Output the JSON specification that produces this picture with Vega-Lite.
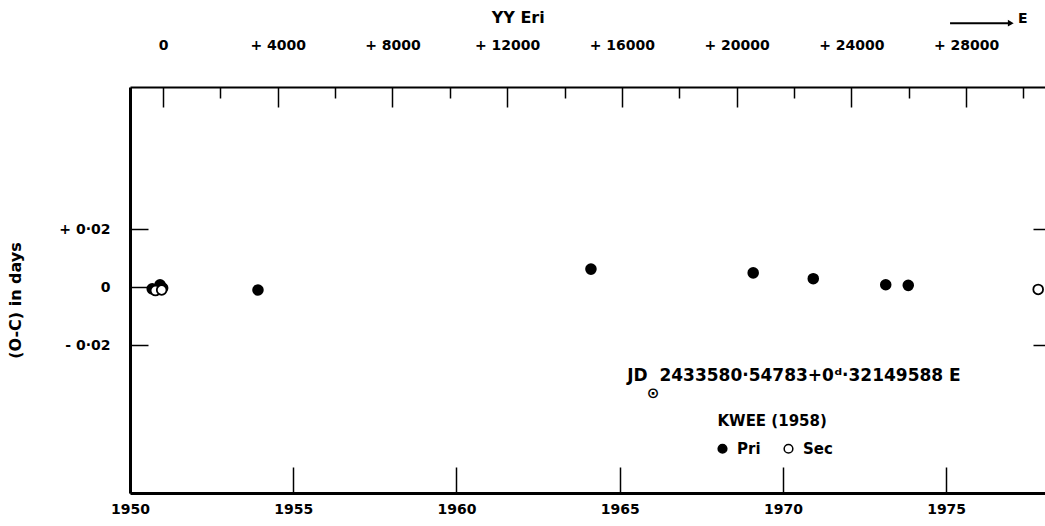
{
  "$schema": "https://vega.github.io/schema/vega-lite/v6.json",
  "width": 917,
  "height": 406,
  "autosize": {"type": "none"},
  "padding": {"left": 130, "top": 87, "right": 0, "bottom": 33},
  "background": "white",
  "config": {"view": {"stroke": null}, "font": "DejaVu Sans"},
  "data": {"values": [
    {"year": 1950.68, "oc": -0.0006, "type": "Pri"},
    {"year": 1950.92, "oc": 0.0008, "type": "Pri"},
    {"year": 1951.0, "oc": -0.0003, "type": "Pri"},
    {"year": 1950.78, "oc": -0.0012, "type": "Sec"},
    {"year": 1950.97, "oc": -0.001, "type": "Sec"},
    {"year": 1953.92, "oc": -0.001, "type": "Pri"},
    {"year": 1964.12, "oc": 0.0062, "type": "Pri"},
    {"year": 1969.09, "oc": 0.0049, "type": "Pri"},
    {"year": 1970.93, "oc": 0.0029, "type": "Pri"},
    {"year": 1973.15, "oc": 0.0008, "type": "Pri"},
    {"year": 1973.84, "oc": 0.0006, "type": "Pri"},
    {"year": 1977.82, "oc": -0.0008, "type": "Sec"}
  ]},
  "layer": [
    {
      "mark": {"type": "circle", "size": 95, "stroke": "black", "strokeWidth": 1.8, "opacity": 1},
      "encoding": {
        "x": {"field": "year", "type": "quantitative",
          "scale": {"domain": [1950, 1978.09], "nice": false, "zero": false},
          "axis": {"orient": "bottom", "values": [1950, 1955, 1960, 1965, 1970, 1975], "format": "d", "title": null, "grid": false,
            "tickSize": -26, "tickWidth": 1.5, "tickColor": "black", "domainWidth": 3, "domainColor": "black",
            "labelPadding": 35, "labelFont": "DejaVu Sans", "labelFontSize": 14, "labelFontWeight": "bold", "labelColor": "black", "labelFlush": false}},
        "y": {"field": "oc", "type": "quantitative",
          "scale": {"domain": [-0.071, 0.069], "nice": false, "zero": false},
          "axis": {"orient": "left", "values": [-0.02, 0, 0.02], "grid": false,
            "labelExpr": "datum.value == 0 ? '0' : (datum.value > 0 ? '+ 0·02' : '- 0·02')",
            "tickSize": -18, "tickWidth": 1.5, "tickColor": "black", "domainWidth": 3, "domainColor": "black",
            "labelPadding": 38, "labelFont": "DejaVu Sans", "labelFontSize": 14, "labelFontWeight": "bold", "labelColor": "black",
            "title": "(O-C) in days", "titleFont": "DejaVu Sans", "titleFontSize": 16, "titleFontWeight": "bold", "titleColor": "black",
            "titleX": -107, "titleY": 213}},
        "fill": {"field": "type", "type": "nominal",
          "scale": {"domain": ["Pri", "Sec"], "range": ["black", "white"]},
          "legend": {"orient": "none", "legendX": 585, "legendY": 354, "direction": "horizontal", "title": null,
            "symbolType": "circle", "symbolSize": 75, "symbolStrokeColor": "black", "symbolStrokeWidth": 1.5,
            "labelFont": "DejaVu Sans", "labelFontSize": 15, "labelFontWeight": "bold", "labelColor": "black", "columnPadding": 20, "labelOffset": 7}}
      }
    },
    {
      "data": {"values": [{}]},
      "mark": {"type": "point", "opacity": 0},
      "encoding": {
        "x": {"datum": 0, "type": "quantitative",
          "scale": {"domain": [-1151, 30823], "nice": false, "zero": false},
          "axis": {"orient": "top", "values": [0, 4000, 8000, 12000, 16000, 20000, 24000, 28000], "grid": false, "title": null,
            "labelExpr": "datum.value == 0 ? '0' : '+ ' + datum.value",
            "tickSize": -20, "tickWidth": 1.5, "tickColor": "black", "domainWidth": 2, "domainColor": "black",
            "labelPadding": 55, "labelFont": "DejaVu Sans", "labelFontSize": 14, "labelFontWeight": "bold", "labelColor": "black", "labelFlush": false}},
        "y": {"datum": 0, "type": "quantitative", "scale": {"domain": [-0.071, 0.069], "nice": false, "zero": false}, "axis": null}
      }
    },
    {
      "data": {"values": [{}]},
      "mark": {"type": "point", "opacity": 0},
      "encoding": {
        "x": {"datum": 0, "type": "quantitative",
          "scale": {"domain": [-1151, 30823], "nice": false, "zero": false},
          "axis": {"orient": "top", "values": [2000, 6000, 10000, 14000, 18000, 22000, 26000, 30000], "grid": false, "title": null,
            "labels": false, "domain": false, "tickSize": -11, "tickWidth": 1.5, "tickColor": "black"}},
        "y": {"datum": 0, "type": "quantitative", "scale": {"domain": [-0.071, 0.069], "nice": false, "zero": false}, "axis": null}
      }
    },
    {
      "data": {"values": [{}]},
      "mark": {"type": "point", "opacity": 0},
      "encoding": {
        "x": {"datum": 1960, "type": "quantitative", "scale": {"domain": [1950, 1978.09], "nice": false, "zero": false}, "axis": null},
        "y": {"datum": 0, "type": "quantitative",
          "scale": {"domain": [-0.071, 0.069], "nice": false, "zero": false},
          "axis": {"orient": "right", "values": [-0.02, 0.02], "grid": false, "title": null, "labels": false, "domain": false,
            "tickSize": -14, "tickWidth": 1.5, "tickColor": "black"}}
      }
    },
    {
      "data": {"values": [{"label": "YY Eri"}]},
      "mark": {"type": "text", "font": "DejaVu Sans", "fontSize": 16, "fontWeight": "bold", "color": "black", "align": "center", "baseline": "middle"},
      "encoding": {
        "text": {"field": "label"},
        "x": {"datum": 1961.89, "type": "quantitative", "scale": {"domain": [1950, 1978.09], "nice": false, "zero": false}, "axis": null},
        "y": {"datum": 0.0928, "type": "quantitative", "scale": {"domain": [-0.071, 0.069], "nice": false, "zero": false}, "axis": null}
      }
    },
    {
      "data": {"values": [{"label": "JD\u00a0\u00a02433580·54783+0ᵈ·32149588 E"}]},
      "mark": {"type": "text", "font": "DejaVu Sans", "fontSize": 17, "fontWeight": "bold", "color": "black", "align": "left", "baseline": "middle"},
      "encoding": {
        "text": {"field": "label"},
        "x": {"datum": 1965.23, "type": "quantitative", "scale": {"domain": [1950, 1978.09], "nice": false, "zero": false}, "axis": null},
        "y": {"datum": -0.0307, "type": "quantitative", "scale": {"domain": [-0.071, 0.069], "nice": false, "zero": false}, "axis": null}
      }
    },
    {
      "data": {"values": [{"label": "⊙"}]},
      "mark": {"type": "text", "font": "DejaVu Sans", "fontSize": 15, "fontWeight": "bold", "color": "black", "align": "center", "baseline": "middle"},
      "encoding": {
        "text": {"field": "label"},
        "x": {"datum": 1966.02, "type": "quantitative", "scale": {"domain": [1950, 1978.09], "nice": false, "zero": false}, "axis": null},
        "y": {"datum": -0.0366, "type": "quantitative", "scale": {"domain": [-0.071, 0.069], "nice": false, "zero": false}, "axis": null}
      }
    },
    {
      "data": {"values": [{"label": "KWEE (1958)"}]},
      "mark": {"type": "text", "font": "DejaVu Sans", "fontSize": 15, "fontWeight": "bold", "color": "black", "align": "center", "baseline": "middle"},
      "encoding": {
        "text": {"field": "label"},
        "x": {"datum": 1969.67, "type": "quantitative", "scale": {"domain": [1950, 1978.09], "nice": false, "zero": false}, "axis": null},
        "y": {"datum": -0.0462, "type": "quantitative", "scale": {"domain": [-0.071, 0.069], "nice": false, "zero": false}, "axis": null}
      }
    },
    {
      "data": {"values": [{}]},
      "mark": {"type": "rule", "color": "black", "strokeWidth": 2},
      "encoding": {
        "x": {"datum": 1975.12, "type": "quantitative", "scale": {"domain": [1950, 1978.09], "nice": false, "zero": false}, "axis": null},
        "x2": {"datum": 1976.9},
        "y": {"datum": 0.091, "type": "quantitative", "scale": {"domain": [-0.071, 0.069], "nice": false, "zero": false}, "axis": null}
      }
    },
    {
      "data": {"values": [{}]},
      "mark": {"type": "point", "shape": "triangle-right", "filled": true, "color": "black", "size": 45, "opacity": 1},
      "encoding": {
        "x": {"datum": 1976.98, "type": "quantitative", "scale": {"domain": [1950, 1978.09], "nice": false, "zero": false}, "axis": null},
        "y": {"datum": 0.091, "type": "quantitative", "scale": {"domain": [-0.071, 0.069], "nice": false, "zero": false}, "axis": null}
      }
    },
    {
      "data": {"values": [{"label": "E"}]},
      "mark": {"type": "text", "font": "DejaVu Sans", "fontSize": 14, "fontWeight": "bold", "color": "black", "align": "left", "baseline": "middle"},
      "encoding": {
        "text": {"field": "label"},
        "x": {"datum": 1977.2, "type": "quantitative", "scale": {"domain": [1950, 1978.09], "nice": false, "zero": false}, "axis": null},
        "y": {"datum": 0.0925, "type": "quantitative", "scale": {"domain": [-0.071, 0.069], "nice": false, "zero": false}, "axis": null}
      }
    }
  ],
  "resolve": {"scale": {"x": "independent", "y": "independent"}, "axis": {"x": "independent", "y": "independent"}}
}
